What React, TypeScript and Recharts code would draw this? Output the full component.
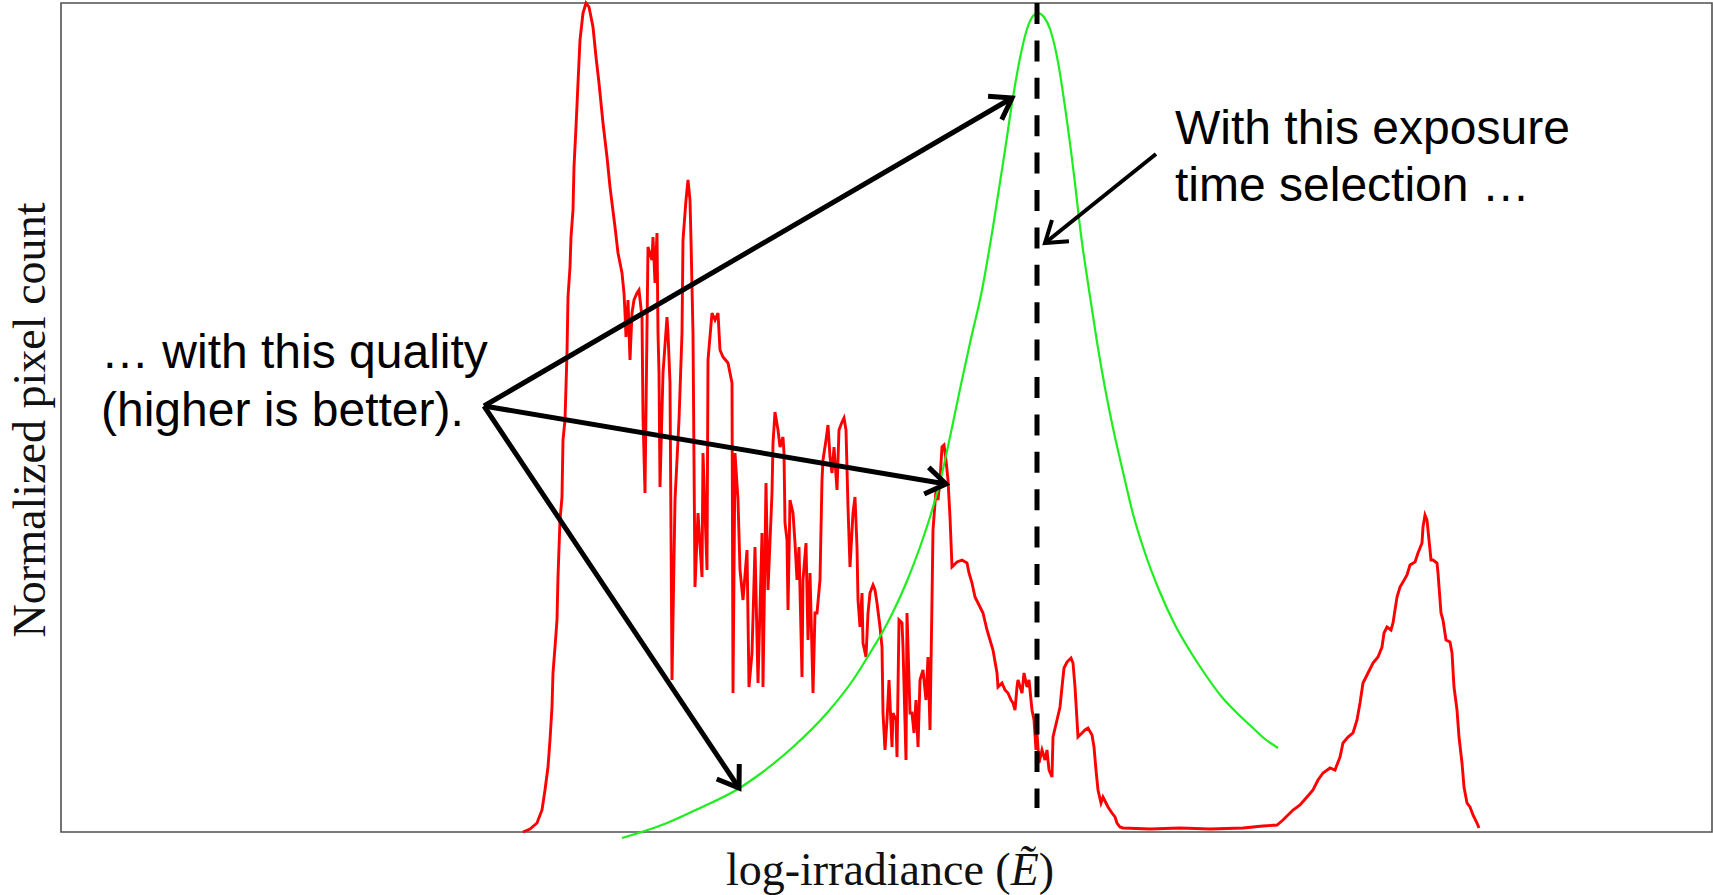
import React from "react";
import { LineChart, Line, XAxis, YAxis, ReferenceLine, ReferenceArea, ReferenceDot } from "recharts";

// Histogram of log-irradiance (bin index) vs. pixel count
const redBins = [
  462, 469, 476, 481, 484, 487, 489, 491, 492, 494, 496, 497, 499, 501, 502, 504, 506, 507, 509, 510,
  512, 513, 515, 517, 519, 522, 525, 528, 532, 535, 538, 542, 546, 549, 554, 557, 561, 563, 564, 565,
  567, 569, 571, 573, 576, 578, 581, 582, 584, 587, 591, 592, 594, 596, 597, 598, 599, 602, 606, 607,
  609, 611, 614, 618, 621, 622, 625, 627, 629, 630, 632, 634, 637, 641, 642, 646, 647, 651, 654, 657,
  659, 662, 667, 671, 672, 674, 677, 679, 682, 686, 688, 691, 694, 697, 701, 702, 705, 707, 711, 712,
  714, 717, 719, 722, 723, 724, 726, 727, 729, 732, 734, 736, 738, 741, 742, 745, 747, 749, 752, 754,
  756, 759, 761, 762, 765, 767, 769, 771, 773, 776, 778, 781, 783, 785, 787, 789, 792, 794, 796, 797,
  799, 801, 802, 805, 807, 809, 812, 814, 816, 819, 821, 822, 824, 826, 828, 831, 832, 835, 836, 838,
  841, 842, 845, 846, 849, 851, 853, 855, 857, 859, 862, 865, 867, 869, 871, 872, 875, 877, 879, 881,
  883, 885, 887, 889, 891, 893, 896, 901, 906, 908, 911, 914, 919, 922, 926, 929, 932, 936, 937, 941,
  944, 947, 950, 952, 954, 956, 957, 961, 963, 966, 968, 971, 973, 975, 976, 978, 981, 984, 986, 988,
  991, 992, 996, 999, 1001, 1003, 1006, 1010, 1012, 1014, 1016, 1017, 1021, 1024, 1027, 1031, 1033, 1035, 1037, 1040,
  1042, 1045, 1047, 1051, 1054, 1056, 1059, 1062, 1089, 1119, 1149, 1182, 1202, 1216, 1222, 1232, 1239, 1246, 1252, 1257,
  1262, 1269, 1274, 1279, 1282, 1287, 1292, 1296, 1299, 1302, 1307, 1312, 1317, 1321, 1323, 1326, 1330, 1332, 1334, 1336,
  1339, 1342, 1346, 1349, 1354, 1357, 1361, 1362, 1364, 1366, 1368, 1370, 1372, 1376, 1377, 1380, 1382, 1385, 1389, 1391,
  1393, 1396, 1398, 1401, 1403, 1406, 1409, 1412, 1416, 1418,
];
const redCounts = [
  0, 3, 9, 22, 42, 65, 92, 125, 159, 185, 212, 255, 312, 335, 392, 412, 479, 535, 565, 595,
  622, 665, 705, 749, 792, 819, 829, 825, 805, 775, 749, 709, 675, 645, 605, 579, 559, 539, 519, 495,
  532, 472, 519, 532, 539, 542, 515, 415, 339, 585, 572, 595, 549, 599, 499, 459, 345, 459, 515, 499,
  449, 152, 332, 412, 499, 592, 632, 652, 632, 592, 499, 245, 319, 255, 379, 262, 472, 519, 512, 519,
  482, 475, 469, 449, 139, 379, 332, 262, 232, 282, 145, 179, 285, 149, 299, 145, 349, 242, 339, 389,
  420, 402, 385, 395, 379, 309, 292, 222, 332, 319, 289, 252, 285, 155, 252, 289, 192, 259, 139, 219,
  219, 252, 352, 372, 392, 407, 375, 359, 385, 342, 402, 410, 414, 402, 325, 265, 319, 335, 285, 232,
  205, 239, 189, 175, 219, 239, 247, 242, 229, 205, 185, 119, 82, 112, 152, 85, 119, 112, 75, 212,
  209, 185, 72, 219, 119, 119, 99, 132, 85, 152, 162, 132, 175, 102, 232, 302, 342, 332, 352, 385,
  387, 372, 352, 315, 265, 267, 270, 272, 269, 259, 249, 235, 225, 219, 202, 192, 182, 159, 145, 149,
  142, 139, 132, 129, 122, 145, 152, 139, 159, 145, 152, 122, 112, 82, 99, 69, 82, 72, 82, 62,
  55, 95, 112, 125, 145, 164, 170, 174, 169, 145, 112, 95, 99, 102, 104, 97, 85, 62, 42, 29,
  35, 29, 25, 19, 15, 9, 5, 4, 3, 4, 3, 4, 6, 7, 12, 22, 27, 35, 42, 52,
  59, 64, 62, 75, 89, 95, 99, 112, 129, 149, 159, 169, 175, 185, 199, 205, 202, 209, 222, 235,
  245, 250, 257, 267, 270, 279, 289, 305, 317, 312, 292, 272, 272, 269, 259, 219, 212, 192, 190, 179,
  145, 122, 95, 69, 45, 29, 25, 17, 9, 4,
];

// Quality curve for the chosen exposure time
const greenBins = [
  561, 606, 639, 677, 699, 732, 766, 792, 809, 821, 832, 846, 859, 869, 879, 889, 899, 909, 921, 932,
  944, 952, 959, 966, 972, 977, 983, 989, 997, 1005, 1013, 1020, 1028, 1036, 1044, 1052, 1062, 1072, 1084, 1098,
  1114, 1129, 1144, 1160, 1176, 1192, 1204, 1217,
];
const greenCounts = [
  -6, 9, 24, 43, 58, 85, 119, 152, 179, 199, 220, 251, 285, 315, 350, 395, 443, 489, 542, 605,
  682, 735, 774, 803, 816, 819, 815, 803, 770, 718, 657, 597, 542, 490, 444, 404, 360, 318, 279, 242,
  207, 181, 158, 136, 119, 104, 93, 84,
];

const exposureBin = 976;
const exposureTop = 829;
const exposureBottom = 24;

const qualityLines = ["\u2026 with this quality", "(higher is better)."];
const exposureLines = ["With this exposure", "time selection \u2026"];
const yLabel = "Normalized pixel count";
const xLabelMain = "log-irradiance (";
const xLabelSym = "\u1EBC";
const xLabelEnd = ")";

const redData = redBins.map((b, i) => ({ bin: b, count: redCounts[i] }));
const greenData = greenBins.map((b, i) => ({ bin: b, count: greenCounts[i] }));

const makeArrow = (w: number) => (props: any) => {
  const { x1, y1, x2, y2 } = props;
  if ([x1, y1, x2, y2].some((v) => v == null || Number.isNaN(v))) return <g />;
  const a = Math.atan2(y2 - y1, x2 - x1);
  const L = 24;
  const s = 0.6;
  const p1 = [x2 - L * Math.cos(a - s), y2 - L * Math.sin(a - s)];
  const p2 = [x2 - L * Math.cos(a + s), y2 - L * Math.sin(a + s)];
  return (
    <g>
      <line x1={x1} y1={y1} x2={x2} y2={y2} stroke="#000" strokeWidth={w} />
      <polyline
        points={`${p1[0]},${p1[1]} ${x2},${y2} ${p2[0]},${p2[1]}`}
        fill="none"
        stroke="#000"
        strokeWidth={w}
        strokeLinejoin="miter"
      />
    </g>
  );
};

const sansText = (lines: string[], dy: number) => (p: any) => (
  <text x={p.cx} y={p.cy} fontFamily="'Liberation Sans', Arial, sans-serif" fontSize={48} fill="#000">
    {lines.map((l, i) => (
      <tspan key={i} x={p.cx} dy={i === 0 ? 0 : dy}>
        {l}
      </tspan>
    ))}
  </text>
);

const yLabelShape = (p: any) => (
  <text
    x={p.cx}
    y={p.cy}
    transform={`rotate(-90 ${p.cx} ${p.cy})`}
    textAnchor="middle"
    fontFamily="'Liberation Serif', 'Times New Roman', serif"
    fontSize={46}
    textLength={435}
    lengthAdjust="spacingAndGlyphs"
    fill="#111"
  >
    {yLabel}
  </text>
);

const xLabelShape = (p: any) => (
  <text
    x={p.cx}
    y={p.cy}
    textAnchor="middle"
    fontFamily="'Liberation Serif', 'Times New Roman', serif"
    fontSize={46}
    fill="#111"
  >
    {xLabelMain}
    <tspan fontStyle="italic">{xLabelSym}</tspan>
    {xLabelEnd}
  </text>
);

export default function App() {
  return (
    <div style={{ position: "absolute", left: 0, top: 0, width: 1713, height: 895, background: "#fff" }}>
      <LineChart width={1713} height={895} margin={{ top: 3, right: 1, bottom: 38, left: 61 }}>
        <XAxis type="number" dataKey="bin" domain={[0, 1651]} hide />
        <YAxis type="number" dataKey="count" domain={[-25, 829]} hide />
        <ReferenceArea
          x1={0}
          x2={1651}
          y1={0}
          y2={829}
          fill="none"
          fillOpacity={0}
          stroke="#505050"
          strokeWidth={1.6}
          ifOverflow="visible"
        />
        <Line
          data={redData}
          dataKey="count"
          type="linear"
          stroke="#ff0000"
          strokeWidth={2.9}
          dot={false}
          isAnimationActive={false}
        />
        <Line
          data={greenData}
          dataKey="count"
          type="monotone"
          stroke="#1eee1e"
          strokeWidth={2.2}
          dot={false}
          isAnimationActive={false}
        />
        <ReferenceLine
          segment={[
            { x: exposureBin, y: exposureTop },
            { x: exposureBin, y: exposureBottom },
          ]}
          stroke="#000"
          strokeWidth={5}
          strokeDasharray="21 16.4"
          ifOverflow="visible"
        />
        <ReferenceLine segment={[{ x: 423, y: 426 }, { x: 951, y: 734 }]} shape={makeArrow(5)} ifOverflow="visible" />
        <ReferenceLine segment={[{ x: 423, y: 426 }, { x: 885, y: 348 }]} shape={makeArrow(5)} ifOverflow="visible" />
        <ReferenceLine segment={[{ x: 423, y: 426 }, { x: 678, y: 44 }]} shape={makeArrow(5)} ifOverflow="visible" />
        <ReferenceLine segment={[{ x: 1095, y: 678 }, { x: 984, y: 589 }]} shape={makeArrow(4)} ifOverflow="visible" />
        <ReferenceDot x={40} y={464} r={0} ifOverflow="visible" shape={sansText(qualityLines, 58)} />
        <ReferenceDot x={1114} y={688} r={0} ifOverflow="visible" shape={sansText(exposureLines, 57)} />
        <ReferenceDot x={-16} y={412} r={0} ifOverflow="visible" shape={yLabelShape} />
        <ReferenceDot x={829} y={-53} r={0} ifOverflow="visible" shape={xLabelShape} />
      </LineChart>
    </div>
  );
}
